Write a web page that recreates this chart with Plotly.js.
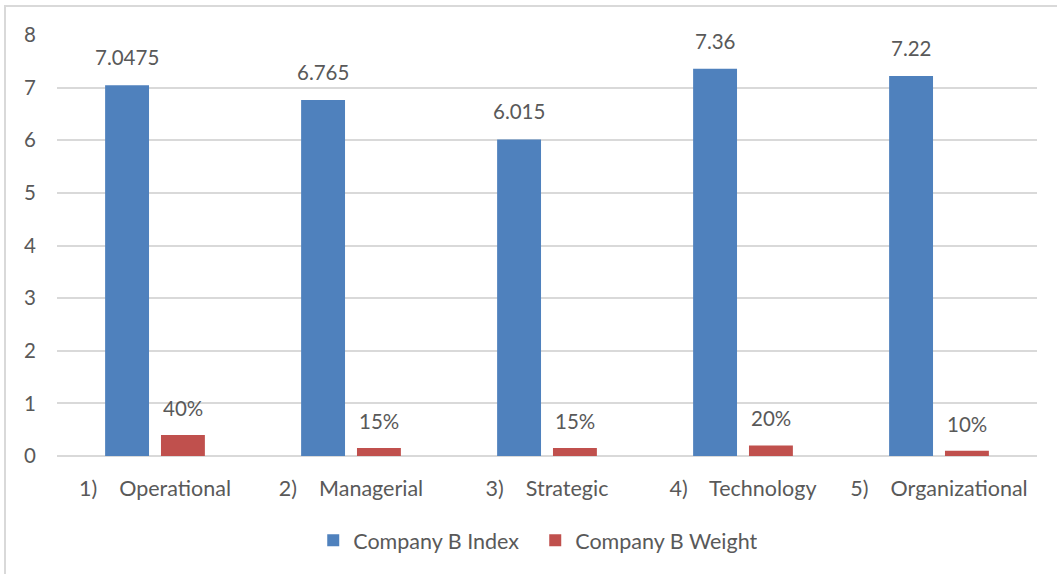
<!DOCTYPE html>
<html>
<head>
<meta charset="utf-8">
<script src="https://cdn.plot.ly/plotly-3.0.1.min.js"></script>
<style>
html,body{margin:0;padding:0;background:#fff;overflow:hidden;}
#wrap{position:relative;width:1057px;height:574px;}
#chart{width:1057px;height:574px;}
#frame{position:absolute;left:4px;top:5px;width:1200px;height:700px;border:2px solid #d9d9d9;pointer-events:none;}
</style>
</head>
<body>
<div id="wrap"><div id="chart"></div><div id="frame"></div></div>
<script>
const categories = ["1)\u00a0\u00a0\u00a0\u00a0Operational", "2)\u00a0\u00a0\u00a0\u00a0Managerial", "3)\u00a0\u00a0\u00a0\u00a0Strategic", "4)\u00a0\u00a0\u00a0\u00a0Technology", "5)\u00a0\u00a0\u00a0\u00a0Organizational"];
const indexValues = [7.0475, 6.765, 6.015, 7.36, 7.22];
const weightValues = [0.40, 0.15, 0.15, 0.20, 0.10];
const seriesNames = ["Company B Index", "Company B Weight"];
const indexLabels = ["7.0475", "6.765", "6.015", "7.36", "7.22"];
const weightLabels = ["40%", "15%", "15%", "20%", "10%"];

const FONT = "Lato, 'Open Sans', sans-serif";
const TXT = "#595959";

const traces = [
  {type: "bar", name: seriesNames[0], x: categories, y: indexValues, marker: {color: "#4f81bd"}, hoverinfo: "skip"},
  {type: "bar", name: seriesNames[1], x: categories, y: weightValues, marker: {color: "#c0504d"}, hoverinfo: "skip"}
];

const annotations = [];
categories.forEach((c, i) => {
  annotations.push({x: c, y: indexValues[i], text: indexLabels[i], xref: "x", yref: "y", showarrow: false,
    xshift: -28, yanchor: "bottom", yshift: 14, font: {family: FONT, size: 20.5, color: TXT}});
  annotations.push({x: c, y: weightValues[i], text: weightLabels[i], xref: "x", yref: "y", showarrow: false,
    xshift: 28, yanchor: "bottom", yshift: 13, font: {family: FONT, size: 20.5, color: TXT}});
});

const layout = {
  width: 1057, height: 574,
  margin: {l: 57, r: 20, t: 35, b: 118},
  paper_bgcolor: "#ffffff", plot_bgcolor: "#ffffff",
  font: {family: FONT, size: 21, color: TXT},
  barmode: "group", bargap: 0.43, bargroupgap: 0.214,
  showlegend: true,
  legend: {orientation: "h", x: 0.488, xanchor: "center", y: -0.2, yanchor: "middle",
    font: {family: FONT, size: 21.5, color: TXT}, itemwidth: 30, traceorder: "normal",
    entrywidth: 177, entrywidthmode: "pixels"},
  xaxis: {type: "category", showgrid: false, zeroline: false, showline: false, ticks: "",
    ticklabelstandoff: 17, tickfont: {family: FONT, size: 21.5, color: TXT}},
  yaxis: {range: [0, 8], dtick: 1, tick0: 0, showgrid: true, gridcolor: "#d9d9d9", gridwidth: 2,
    zeroline: true, zerolinecolor: "#d9d9d9", zerolinewidth: 2, showline: false, ticks: "",
    ticklabelstandoff: 20, tickfont: {family: FONT, size: 20.5, color: TXT}},
  annotations: annotations
};

Plotly.newPlot("chart", traces, layout, {displayModeBar: false, staticPlot: true});
</script>
</body>
</html>
